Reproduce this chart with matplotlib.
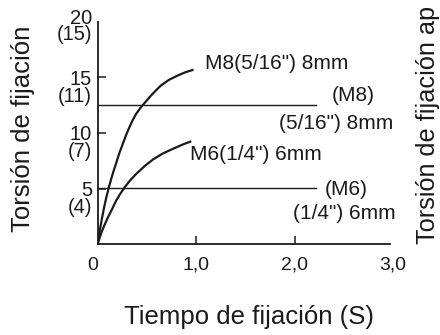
import matplotlib
matplotlib.use("Agg")
import matplotlib.pyplot as plt
import matplotlib.transforms as mtransforms

plt.rcParams['font.family'] = ['Liberation Sans', 'DejaVu Sans']

# ---- data ----
m8_t = [0, 0.023, 0.045, 0.067, 0.09, 0.11, 0.135, 0.16, 0.186, 0.22, 0.254, 0.29,
        0.321, 0.355, 0.389, 0.43, 0.467, 0.54, 0.6, 0.64, 0.72, 0.81, 0.89, 0.973]
m8_v = [0, 1.35, 2.4, 3.4, 4.3, 5.0, 5.8, 6.55, 7.25, 8.2, 9.0, 9.85,
        10.5, 11.15, 11.7, 12.2, 12.6, 13.35, 13.9, 14.25, 14.75, 15.15, 15.45, 15.68]
m6_t = [0, 0.02, 0.044, 0.07, 0.1, 0.14, 0.186, 0.23, 0.28, 0.34, 0.4, 0.48,
        0.565, 0.66, 0.77, 0.86, 0.95]
m6_v = [0, 0.6, 1.2, 1.75, 2.35, 3.05, 3.9, 4.55, 5.2, 5.85, 6.4, 7.05,
        7.64, 8.15, 8.6, 8.95, 9.25]
ref_m8 = 12.5
ref_m6 = 5.1
ref_end = 2.22

xticks = [0, 1, 2, 3]
xtick_labels = ["0", "1,0", "2,0", "3,0"]
yticks = [5, 10, 15, 20]
ytick_labels = ["5", "10", "15", "20"]
ytick_sub = ["(4)", "(7)", "(11)", "(15)"]

xlabel = "Tiempo de fijación (S)"
ylabel_left = "Torsión de fijación"
ylabel_right = "Torsión de fijación ap"

col = "#1a1a1a"

fig = plt.figure(figsize=(4.4, 3.35), dpi=100)
W, H = 440, 335
x0, y0 = 97.7, 244.3
x3, y20 = 393.2, 21.6
ax = fig.add_axes([x0 / W, 1 - y0 / H, (x3 - x0) / W, (y0 - y20) / H])
ax.set_xlim(0, 3)
ax.set_ylim(0, 20)
ax.patch.set_alpha(0)

for s in ["top", "right"]:
    ax.spines[s].set_visible(False)
for s in ["left", "bottom"]:
    ax.spines[s].set_linewidth(1.3)
    ax.spines[s].set_color(col)
ax.spines["bottom"].set_bounds(0, 2.97)

ax.plot(m8_t, m8_v, color=col, lw=1.6, solid_capstyle='butt', solid_joinstyle='round')
ax.plot(m6_t, m6_v, color=col, lw=1.6, solid_capstyle='butt', solid_joinstyle='round')
ax.plot([0, ref_end], [ref_m8, ref_m8], color=col, lw=1.0)
ax.plot([0, ref_end], [ref_m6, ref_m6], color=col, lw=1.0)

ax.set_xticks(xticks)
ax.set_xticklabels(xtick_labels, fontsize=14, color=col)
ax.set_yticks(yticks)
combined = [f"{a}\n{b}" for a, b in zip(ytick_labels, ytick_sub)]
ax.set_yticklabels(combined, fontsize=14.5, color=col, linespacing=0.85,
                   multialignment='right')
ax.tick_params(axis='x', direction='in', length=6, width=1.1, color=col, pad=9)
ax.tick_params(axis='y', direction='in', length=6, width=1.1, color=col, pad=4)
xt = ax.xaxis.get_major_ticks()
xt[0].tick1line.set_visible(False)
xt[-1].tick1line.set_visible(False)
yt = ax.yaxis.get_major_ticks()
yt[-1].tick1line.set_visible(False)

# shift "0" label slightly left; shift y labels so the first line sits at the tick
lbls = ax.get_xticklabels()
lbls[0].set_transform(lbls[0].get_transform() + mtransforms.ScaledTranslation(-5 / 100, 0, fig.dpi_scale_trans))
for v, lab in zip(yticks, ax.get_yticklabels()):
    dy = -4.0 if v == 20 else -9.5
    lab.set_transform(lab.get_transform() + mtransforms.ScaledTranslation(0, dy / 100, fig.dpi_scale_trans))

# annotations
fs = 15
ax.text(1.09, 16.26, 'M8(5/16") 8mm', ha='left', va='center', fontsize=fs, color=col)
ax.text(2.375, 13.4, '(M8)', ha='left', va='center', fontsize=fs, color=col)
ax.text(3.0, 10.87, '(5/16") 8mm', ha='right', va='center', fontsize=fs, color=col, clip_on=False)
ax.text(0.94, 8.02, 'M6(1/4") 6mm', ha='left', va='center', fontsize=fs, color=col)
ax.text(2.31, 4.88, '(M6)', ha='left', va='center', fontsize=fs, color=col)
ax.text(3.02, 2.78, '(1/4") 6mm', ha='right', va='center', fontsize=fs, color=col, clip_on=False)

# axis titles
fig.text(249 / W, 1 - 317 / H, xlabel, ha='center', va='center', fontsize=18.5, color=col)
fig.text(23 / W, 1 - 128.5 / H, ylabel_left, ha='center', va='center', rotation=90, fontsize=18.5, color=col)
fig.text(428 / W, 1 - 244 / H, ylabel_right, ha='center', va='bottom', rotation=90, fontsize=18.2, color=col)

fig.savefig("out.png", dpi=100)
